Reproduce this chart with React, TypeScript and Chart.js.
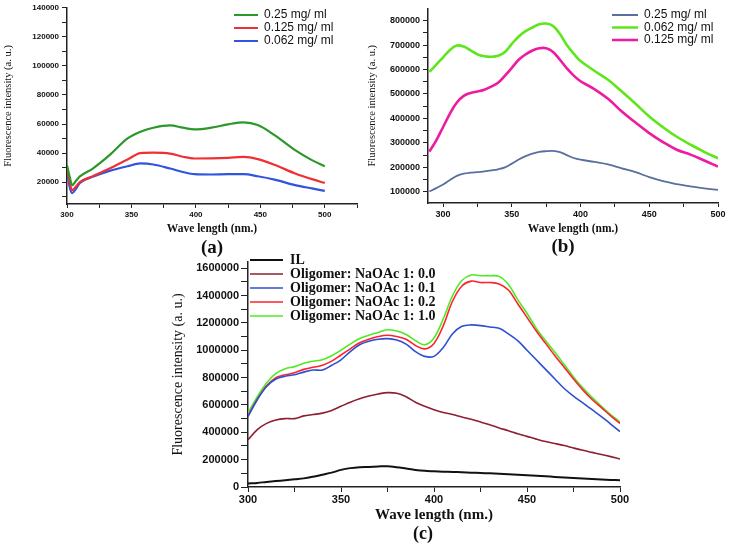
import React, { useEffect, useRef } from "react";
import { Chart, registerables } from "chart.js";
Chart.register(...registerables);

const SANS = "'Liberation Sans', Arial, sans-serif";
const SERIF = "'Liberation Serif', 'Times New Roman', serif";

// ---------- Panel (a) ----------
const A_WL = [300, 302, 304, 307, 310, 320, 333, 347, 357, 367, 380, 390, 399, 412, 425, 437, 448, 461, 477, 490, 500];
const A_025 = [31700, 24000, 18000, 21000, 24000, 29400, 38600, 50100, 54700, 57500, 59100, 57500, 56300, 57500, 59800, 61200, 59300, 52400, 42100, 35200, 31000];
const A_0125 = [30000, 20000, 14500, 17000, 20000, 24100, 29400, 35600, 40000, 40300, 39700, 37500, 36300, 36400, 36800, 37400, 35900, 32000, 26000, 22100, 19500];
const A_0062 = [29000, 17000, 12500, 15500, 19500, 23700, 27800, 31000, 32900, 32200, 29400, 27000, 25500, 25300, 25500, 25500, 24100, 21800, 18000, 15700, 14000];
const A_LABELS = ["0.25 mg/ ml", "0.125 mg/ ml", "0.062 mg/ ml"];
const A_X_TICKS = [300, 325, 350, 375, 400, 425, 450, 475, 500, 525];
const A_Y_TICKS = [10000, 20000, 30000, 40000, 50000, 60000, 70000, 80000, 90000, 100000, 110000, 120000, 130000, 140000];

// ---------- Panel (b) ----------
const B_WL = [290, 295, 300, 305, 310, 315, 320, 325, 330, 335, 340, 345, 350, 355, 360, 365, 370, 375, 380, 385, 390, 395, 400, 410, 420, 430, 440, 450, 460, 470, 480, 490, 500];
const B_025 = [101000, 115000, 130000, 148000, 165000, 174000, 178000, 180000, 183000, 187000, 192000, 200000, 215000, 232000, 246000, 256000, 263000, 266000, 267000, 262000, 250000, 238000, 231000, 222000, 212000, 196000, 180000, 160000, 143000, 131000, 122000, 114000, 108000];
const B_0062 = [590000, 620000, 650000, 680000, 698000, 694000, 678000, 662000, 654000, 652000, 656000, 672000, 705000, 735000, 757000, 772000, 785000, 788000, 778000, 745000, 700000, 665000, 635000, 595000, 558000, 510000, 460000, 408000, 364000, 325000, 293000, 263000, 237000];
const B_0125 = [264000, 310000, 365000, 420000, 465000, 492000, 504000, 510000, 517000, 530000, 546000, 575000, 607000, 640000, 662000, 678000, 687000, 687000, 672000, 640000, 605000, 575000, 552000, 520000, 480000, 428000, 383000, 340000, 303000, 272000, 252000, 228000, 203000];
const B_LABELS = ["0.25 mg/ ml", "0.062 mg/ ml", "0.125 mg/ ml"];
const B_X_TICKS = [300, 325, 350, 375, 400, 425, 450, 475, 500];
const B_Y_TICKS = [100000, 150000, 200000, 250000, 300000, 350000, 400000, 450000, 500000, 550000, 600000, 650000, 700000, 750000, 800000];

// ---------- Panel (c) ----------
const C_WL = [300, 305, 310, 315, 320, 325, 330, 335, 340, 345, 350, 355, 360, 365, 370, 375, 380, 385, 390, 395, 400, 405, 410, 415, 420, 425, 430, 435, 440, 445, 450, 455, 460, 465, 470, 475, 480, 485, 490, 495, 500];
const C_IL = [25000, 30000, 37000, 43000, 50000, 57000, 63000, 75000, 90000, 105000, 125000, 138000, 145000, 147000, 150000, 152000, 145000, 135000, 125000, 118000, 115000, 112000, 110000, 108000, 105000, 102000, 100000, 97000, 94000, 90000, 86000, 82000, 78000, 74000, 70000, 66000, 62000, 58000, 55000, 52000, 50000];
const C_00 = [345000, 420000, 465000, 490000, 500000, 500000, 520000, 530000, 540000, 560000, 590000, 620000, 645000, 665000, 680000, 690000, 685000, 660000, 620000, 590000, 565000, 545000, 530000, 512000, 495000, 475000, 455000, 432000, 412000, 390000, 370000, 350000, 332000, 318000, 303000, 285000, 268000, 253000, 238000, 222000, 205000];
const C_01 = [515000, 640000, 735000, 790000, 810000, 820000, 840000, 855000, 855000, 890000, 930000, 990000, 1040000, 1065000, 1080000, 1085000, 1075000, 1045000, 990000, 955000, 955000, 1020000, 1120000, 1175000, 1185000, 1180000, 1170000, 1160000, 1120000, 1070000, 1000000, 930000, 860000, 790000, 720000, 665000, 615000, 565000, 515000, 460000, 405000];
const C_02 = [520000, 640000, 740000, 800000, 820000, 835000, 860000, 875000, 890000, 920000, 965000, 1010000, 1055000, 1080000, 1100000, 1110000, 1100000, 1080000, 1035000, 1010000, 1050000, 1180000, 1360000, 1470000, 1505000, 1495000, 1495000, 1485000, 1440000, 1340000, 1240000, 1140000, 1050000, 960000, 875000, 790000, 710000, 640000, 580000, 520000, 465000];
const C_10 = [540000, 660000, 760000, 830000, 865000, 880000, 905000, 920000, 930000, 960000, 1000000, 1045000, 1085000, 1110000, 1130000, 1150000, 1140000, 1115000, 1070000, 1040000, 1090000, 1230000, 1400000, 1510000, 1550000, 1545000, 1545000, 1540000, 1480000, 1370000, 1270000, 1160000, 1070000, 985000, 895000, 805000, 725000, 655000, 590000, 530000, 475000];
const C_LABELS = ["IL", "Oligomer: NaOAc 1: 0.0", "Oligomer: NaOAc 1: 0.1", "Oligomer: NaOAc 1: 0.2", "Oligomer: NaOAc 1: 1.0"];
const C_X_TICKS = [300, 325, 350, 375, 400, 425, 450, 475, 500];
const C_Y_TICKS = [0, 100000, 200000, 300000, 400000, 500000, 600000, 700000, 800000, 900000, 1000000, 1100000, 1200000, 1300000, 1400000, 1500000, 1600000];

const pts = (xs: number[], ys: number[]) => xs.map((x, i) => ({ x, y: ys[i] }));

const legendPos = {
  id: "legendPos",
  afterLayout(chart: any, _a: any, opts: any) {
    const lg = chart.legend;
    if (!lg) return;
    const w = lg.width, h = lg.height;
    lg.left = opts.x; lg.top = opts.y; lg.right = opts.x + w; lg.bottom = opts.y + h;
  },
};

function line(label: string, xs: number[], ys: number[], color: string, width: number, smooth: "monotone" | number) {
  const base: any = {
    label,
    data: pts(xs, ys),
    borderColor: color,
    backgroundColor: color,
    borderWidth: width,
    pointRadius: 0,
    fill: false,
  };
  if (smooth === "monotone") base.cubicInterpolationMode = "monotone";
  else base.tension = smooth;
  return base;
}

type Spec = {
  datasets: any[];
  xMin: number; xMax: number; xTicks: number[]; xLabelEvery: number; xLabelMax: number;
  yMin: number; yMax: number; yTicks: number[]; yLabelEvery: number;
  tickFont: number; yTickLen: number; yTickPad: number; xTickLen: number; xTickPad: number;
  yWidth: number; xHeight: number;
  yTitleSize: number; yTitlePad: number; xTitleSize: number; xTitlePad: number;
  padding: any;
  legendFont: any; legendPad: number; legendBoxW: number; legendX: number; legendY: number;
};

function makeConfig(s: Spec): any {
  const axisColor = "#222";
  return {
    type: "line",
    data: { datasets: s.datasets },
    plugins: [legendPos],
    options: {
      animation: false,
      responsive: false,
      devicePixelRatio: 1,
      layout: { padding: s.padding },
      plugins: {
        legend: {
          position: "chartArea",
          align: "start",
          labels: {
            usePointStyle: true,
            pointStyle: "line",
            pointStyleWidth: s.legendBoxW,
            boxHeight: 2,
            padding: s.legendPad,
            color: "#111",
            font: s.legendFont,
          },
        },
        tooltip: { enabled: false },
        legendPos: { x: s.legendX, y: s.legendY },
      },
      scales: {
        x: {
          type: "linear",
          min: s.xMin,
          max: s.xMax,
          afterBuildTicks: (sc: any) => { sc.ticks = s.xTicks.map((v) => ({ value: v })); },
          afterFit: (sc: any) => { sc.height = s.xHeight; },
          border: { display: true, color: axisColor, width: 1.5 },
          grid: { drawOnChartArea: false, drawTicks: true, tickLength: s.xTickLen, color: axisColor, tickWidth: 1 },
          ticks: {
            autoSkip: false,
            maxRotation: 0,
            padding: s.xTickPad,
            color: "#111",
            font: { family: SANS, size: s.tickFont, weight: "bold" },
            callback: (v: any) => (v % s.xLabelEvery === 0 && v <= s.xLabelMax ? String(v) : ""),
          },
          title: {
            display: true,
            text: "Wave length (nm.)",
            color: "#111",
            font: { family: SERIF, size: s.xTitleSize, weight: "bold" },
            padding: { top: 0, bottom: s.xTitlePad },
          },
        },
        y: {
          type: "linear",
          min: s.yMin,
          max: s.yMax,
          afterBuildTicks: (sc: any) => { sc.ticks = s.yTicks.map((v) => ({ value: v })); },
          afterFit: (sc: any) => { sc.width = s.yWidth; },
          border: { display: true, color: axisColor, width: 1.5 },
          grid: { drawOnChartArea: false, drawTicks: true, tickLength: s.yTickLen, color: axisColor, tickWidth: 1 },
          ticks: {
            autoSkip: false,
            padding: s.yTickPad,
            color: "#111",
            font: { family: SANS, size: s.tickFont, weight: "bold" },
            callback: (v: any) => (v % s.yLabelEvery === 0 ? String(v) : ""),
          },
          title: {
            display: true,
            text: "Fluorescence intensity (a. u.)",
            color: "#111",
            font: { family: SERIF, size: s.yTitleSize },
            padding: { top: s.yTitlePad, bottom: 0 },
          },
        },
      },
    },
  };
}

const SPEC_A: Spec = {
  datasets: [
    line(A_LABELS[0], A_WL, A_025, "#2a982a", 2.2, "monotone"),
    line(A_LABELS[1], A_WL, A_0125, "#ee3035", 2.2, "monotone"),
    line(A_LABELS[2], A_WL, A_0062, "#2f55e0", 2.2, "monotone"),
  ],
  xMin: 300, xMax: 525, xTicks: A_X_TICKS, xLabelEvery: 50, xLabelMax: 500,
  yMin: 5000, yMax: 140000, yTicks: A_Y_TICKS, yLabelEvery: 20000,
  tickFont: 8, yTickLen: 5, yTickPad: 3, xTickLen: 4, xTickPad: 2,
  yWidth: 67, xHeight: 36,
  yTitleSize: 10.5, yTitlePad: 2, xTitleSize: 11.5, xTitlePad: 4.1,
  padding: { left: 0, top: 7, right: 8, bottom: 0 },
  legendFont: { family: SANS, size: 12 }, legendPad: 1, legendBoxW: 24, legendX: 233, legendY: 8,
};

const SPEC_B: Spec = {
  datasets: [
    line(B_LABELS[0], B_WL, B_025, "#5a6ea0", 1.8, 0.4),
    line(B_LABELS[1], B_WL, B_0062, "#5fe61a", 2.6, 0.4),
    line(B_LABELS[2], B_WL, B_0125, "#ee1aa0", 2.6, 0.4),
  ],
  xMin: 289, xMax: 500, xTicks: B_X_TICKS, xLabelEvery: 50, xLabelMax: 500,
  yMin: 54000, yMax: 850000, yTicks: B_Y_TICKS, yLabelEvery: 100000,
  tickFont: 9, yTickLen: 5, yTickPad: 3, xTickLen: 4, xTickPad: 2,
  yWidth: 63, xHeight: 37,
  yTitleSize: 10.5, yTitlePad: 0.7, xTitleSize: 11.5, xTitlePad: 4.1,
  padding: { left: 0, top: 8, right: 14, bottom: 0 },
  legendFont: { family: SANS, size: 12 }, legendPad: 0.5, legendBoxW: 26, legendX: 246.5, legendY: 8.5,
};

const SPEC_C: Spec = {
  datasets: [
    line(C_LABELS[0], C_WL, C_IL, "#111111", 2, 0.35),
    line(C_LABELS[1], C_WL, C_00, "#8e1f30", 1.6, 0.35),
    line(C_LABELS[2], C_WL, C_01, "#2d4fd0", 1.6, 0.35),
    line(C_LABELS[3], C_WL, C_02, "#ff2030", 1.6, 0.35),
    line(C_LABELS[4], C_WL, C_10, "#4eea22", 1.6, 0.35),
  ],
  xMin: 300, xMax: 500, xTicks: C_X_TICKS, xLabelEvery: 50, xLabelMax: 500,
  yMin: 0, yMax: 1645000, yTicks: C_Y_TICKS, yLabelEvery: 200000,
  tickFont: 11, yTickLen: 7, yTickPad: 2, xTickLen: 5, xTickPad: 1,
  yWidth: 98, xHeight: 43,
  yTitleSize: 14, yTitlePad: 19.6, xTitleSize: 15, xTitlePad: 6,
  padding: { left: 0, top: 12, right: 30, bottom: 0 },
  legendFont: { family: SERIF, size: 14, weight: "bold" }, legendPad: 0, legendBoxW: 33, legendX: 100, legendY: 3,
};

function Panel({ spec, left, top, width, height }: { spec: Spec; left: number; top: number; width: number; height: number }) {
  const ref = useRef<HTMLCanvasElement | null>(null);
  useEffect(() => {
    if (!ref.current) return;
    const chart = new Chart(ref.current, makeConfig(spec));
    return () => chart.destroy();
  }, [spec]);
  return (
    <canvas
      ref={ref}
      width={width}
      height={height}
      style={{ position: "absolute", left, top, width, height }}
    />
  );
}

function Tag({ text, x, y, size }: { text: string; x: number; y: number; size: number }) {
  return (
    <div
      style={{
        position: "absolute",
        left: x,
        top: y,
        transform: "translate(-50%, -50%)",
        font: `bold ${size}px ${SERIF}`,
        color: "#111",
        whiteSpace: "nowrap",
        lineHeight: 1,
      }}
    >
      {text}
    </div>
  );
}

export default function App() {
  return (
    <div style={{ position: "absolute", left: 0, top: 0, width: 732, height: 547, background: "#fff", overflow: "hidden" }}>
      <Panel spec={SPEC_A} left={0} top={0} width={365} height={240} />
      <Panel spec={SPEC_B} left={365} top={0} width={367} height={240} />
      <Panel spec={SPEC_C} left={150} top={250} width={500} height={280} />
      <Tag text="(a)" x={212} y={245.5} size={19} />
      <Tag text="(b)" x={563} y={245} size={19} />
      <Tag text="(c)" x={423} y={533} size={18} />
    </div>
  );
}
